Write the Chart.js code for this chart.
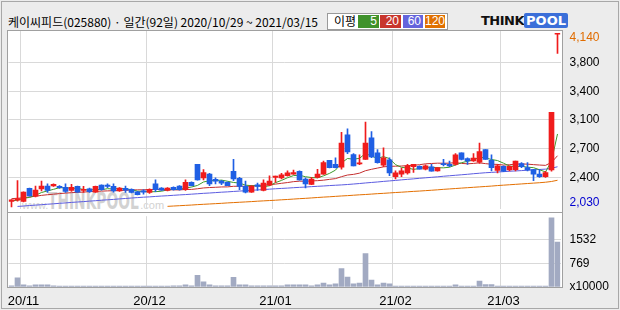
<!DOCTYPE html>
<html><head><meta charset="utf-8">
<script src="https://cdn.jsdelivr.net/npm/chart.js@4.4.1/dist/chart.umd.min.js"></script>
<style>
html,body{margin:0;padding:0;}
body{width:620px;height:310px;background:#ececec;position:relative;overflow:hidden;font-family:'Noto Sans CJK KR','Noto Sans',sans-serif;}
#outer{position:absolute;left:1px;top:1px;width:618px;height:308px;box-sizing:border-box;border:1px solid #a8a8a8;}
#plot{position:absolute;left:7px;top:30px;width:556px;height:258px;box-sizing:border-box;border:1px solid #a0a0a0;background:#fff;}
#sep{position:absolute;left:7px;top:212px;width:556px;height:1px;background:#a0a0a0;}
#title{position:absolute;left:8px;top:13px;font-size:12px;line-height:17px;color:#000;white-space:nowrap;}
#legend{position:absolute;left:327px;top:13px;width:121px;height:17px;box-sizing:border-box;border:1px solid #9a9a9a;background:#fff;}
#legend .t{position:absolute;left:6px;top:-1px;font-size:12px;line-height:16px;color:#000;}
#legend .b{position:absolute;top:1px;height:13px;font-family:'Liberation Sans',sans-serif;font-size:12px;line-height:13px;color:#fff;text-align:right;box-sizing:border-box;padding-right:2px;}
#logo{position:absolute;left:481px;top:13px;height:15px;white-space:nowrap;font-family:'DejaVu Sans',sans-serif;font-weight:bold;font-size:13px;line-height:15px;}
#logo .k{color:#111;letter-spacing:-0.5px;}
#logo .p{color:#fff;background:#3b6fd9;padding:0 2px;border-radius:2px;}
#wm{position:absolute;left:22px;top:188px;white-space:nowrap;color:#d2d2d2;}
#wm .s{font-family:'Liberation Sans',sans-serif;font-size:11px;}
#wm .big{display:inline-block;font-family:'DejaVu Sans',sans-serif;font-weight:bold;font-size:23px;transform:scaleX(0.6);transform-origin:left bottom;width:92px;overflow:visible;}
canvas{position:absolute;left:0;}
</style>
</head><body>
<div id="outer"></div>
<div id="plot"></div>
<div id="wm"><span class="s">www.</span><span class="big">THINKPOOL</span><span class="s">.com</span></div>
<div id="sep"></div>
<div id="title">케이씨피드(025880) · 일간(92일) 2020/10/29 ~ 2021/03/15</div>
<div id="legend"><span class="t">이평</span>
<span class="b" style="left:30px;width:21px;background:#40922c">5</span>
<span class="b" style="left:52px;width:21px;background:#c8352c">20</span>
<span class="b" style="left:75px;width:20px;background:#6464dc">60</span>
<span class="b" style="left:97px;width:20px;background:#e07000">120</span>
</div>
<div id="logo"><span class="k">THINK</span><span class="p">POOL</span></div>
<canvas id="cPrice" width="620" height="225" style="top:0;width:620px;height:225px"></canvas>
<canvas id="cVol" width="620" height="110" style="top:200px;width:620px;height:110px"></canvas>
<script>
const categories = [
'20/10/29','20/10/30',
'20/11/02','20/11/03','20/11/04','20/11/05','20/11/06','20/11/09','20/11/10','20/11/11','20/11/12','20/11/13',
'20/11/16','20/11/17','20/11/18','20/11/19','20/11/20','20/11/23','20/11/24','20/11/25','20/11/26','20/11/27','20/11/30',
'20/12/01','20/12/02','20/12/03','20/12/04','20/12/07','20/12/08','20/12/09','20/12/10','20/12/11',
'20/12/14','20/12/15','20/12/16','20/12/17','20/12/18','20/12/21','20/12/22','20/12/23','20/12/24','20/12/28','20/12/29','20/12/30',
'21/01/04','21/01/05','21/01/06','21/01/07','21/01/08','21/01/11','21/01/12','21/01/13','21/01/14','21/01/15',
'21/01/18','21/01/19','21/01/20','21/01/21','21/01/22','21/01/25','21/01/26','21/01/27','21/01/28','21/01/29',
'21/02/01','21/02/02','21/02/03','21/02/04','21/02/05','21/02/08','21/02/09','21/02/10',
'21/02/15','21/02/16','21/02/17','21/02/18','21/02/19','21/02/22','21/02/23','21/02/24','21/02/25','21/02/26',
'21/03/02','21/03/03','21/03/04','21/03/05','21/03/08','21/03/09','21/03/10','21/03/11','21/03/12','21/03/15'
];
const open  = [2095,2110,2095,2255,2160,2250,2285,2285,2280,2270, 2230,2280,2230,2250,2210,2295,2295,2280,2225,2255,
               2245,2215,2225,2205,2310,2260,2230,2270,2285,2240, 2330,2550,2385,2430,2365,2345,2330,2465,2380,2280,
               2210,2300,2230,2295,2390,2385,2410,2430,2465,2370, 2305,2390,2430,2600,2550,2515,2910,2670,2555,2610,
               2875,2690,2540,2605,2400,2430,2445,2520,2525,2490, 2520,2470,2560,2550,2550,2690,2620,2590,2575,2730,
               2600,2475,2525,2480,2485,2560,2510,2485,2430,2400, 2480,4140];
const high  = [2120,2350,2215,2260,2285,2345,2310,2310,2290,2310, 2305,2285,2280,2260,2285,2300,2310,2310,2265,2285,
               2250,2220,2240,2250,2360,2265,2265,2275,2290,2360, 2335,2550,2485,2440,2385,2355,2335,2610,2390,2345,
               2290,2320,2360,2410,2405,2440,2470,2480,2470,2385, 2390,2490,2590,2600,2630,2940,2985,2680,2665,3065,
               2950,2730,2750,2630,2470,2505,2550,2550,2530,2545, 2550,2510,2610,2590,2680,2690,2630,2680,2810,2730,
               2665,2550,2530,2530,2590,2570,2570,2490,2490,2465, 3185,4140];
const low   = [2030,2100,2090,2160,2150,2225,2205,2280,2255,2205, 2220,2205,2205,2205,2205,2235,2265,2210,2220,2205,
               2200,2175,2185,2195,2215,2230,2225,2235,2235,2230, 2285,2355,2360,2290,2310,2300,2290,2350,2240,2200,
               2205,2230,2225,2290,2330,2370,2405,2425,2355,2260, 2300,2385,2425,2505,2505,2490,2680,2530,2545,2610,
               2630,2565,2520,2410,2370,2400,2430,2450,2490,2480, 2465,2465,2530,2520,2540,2605,2550,2585,2560,2610,
               2470,2445,2460,2470,2470,2510,2470,2350,2390,2390, 2465,3905];
const close = [2115,2130,2210,2165,2235,2285,2230,2305,2265,2220, 2270,2210,2245,2215,2280,2240,2280,2225,2260,2235,
               2205,2180,2210,2245,2240,2235,2260,2240,2240,2330, 2290,2360,2450,2310,2345,2320,2290,2370,2280,2210,
               2285,2280,2320,2345,2405,2420,2445,2450,2360,2310, 2370,2430,2570,2510,2510,2810,2700,2530,2560,2810,
               2640,2570,2630,2445,2445,2470,2530,2550,2490,2530, 2465,2510,2545,2530,2665,2610,2590,2625,2705,2610,
               2510,2530,2465,2525,2590,2520,2480,2430,2400,2450, 3185,4140];
const volume = [40,295,70,40,70,70,70,35,30,30, 30,30,30,30,30,30,30,30,30,30,
                30,30,30,30,30,30,30,35,40,70, 40,375,170,70,35,35,35,315,70,70,
                35,35,35,35,35,40,70,70,70,70, 40,70,130,70,100,595,320,100,130,1080,
                225,70,130,100,30,30,30,30,30,30, 30,30,30,30,70,30,30,30,195,80,
                80,30,30,30,30,30,30,30,30,30, 2240,1455];
const ma5 = [2105,2110,2135,2145,2172,2205,2225,2244,2264,2262, 2259,2255,2243,2233,2245,2239,2252,2248,2257,2248,
             2241,2221,2218,2215,2215,2221,2237,2243,2243,2261, 2272,2292,2334,2349,2351,2357,2343,2328,2321,2295,
             2289,2286,2276,2288,2326,2353,2386,2412,2416,2398, 2388,2385,2409,2439,2479,2567,2621,2613,2623,2683,
             2649,2624,2644,2620,2546,2513,2505,2488,2498,2514, 2513,2508,2507,2514,2542,2570,2587,2603,2638,2628,
             2609,2596,2564,2528,2523,2525,2515,2509,2484,2456, 2589,2921];
const ma20 = [2130,2135,2140,2150,2160,2170,2178,2185,2192,2198, 2203,2207,2211,2215,2219,2222,2225,2227,2230,2232,
              2236,2238,2238,2242,2243,2240,2241,2238,2237,2242, 2243,2251,2261,2266,2269,2273,2274,2281,2282,2281,
              2285,2290,2295,2300,2308,2318,2327,2338,2344,2343, 2347,2350,2356,2366,2375,2399,2419,2427,2442,2472,
              2489,2504,2519,2525,2527,2529,2534,2538,2545,2556, 2560,2564,2563,2564,2571,2561,2556,2561,2568,2558,
              2551,2549,2541,2545,2552,2554,2552,2546,2541,2537, 2573,2655];
const ma60 = [null,2035,2040,2046,2051,2056,2062,2067,2073,2078, 2084,2089,2094,2100,2105,2111,2116,2121,2127,2132,
              2138,2143,2148,2152,2157,2162,2166,2171,2176,2180, 2185,2190,2195,2199,2204,2209,2213,2218,2223,2227,
              2232,2237,2241,2246,2251,2255,2259,2264,2268,2272, 2277,2281,2285,2290,2294,2298,2303,2309,2315,2322,
              2328,2334,2341,2347,2353,2360,2366,2372,2379,2385, 2391,2397,2404,2410,2416,2422,2428,2435,2441,2447,
              2451,2456,2460,2465,2469,2473,2478,2482,2487,2491, 2502,2520];
const ma120 = [null,null,null,null,null,null,null,null,null,null, null,null,null,null,null,null,null,null,null,null,
               null,null,null,null,null,null,2036,2040,2044,2048, 2052,2057,2061,2065,2069,2073,2078,2082,2086,2090,
               2094,2099,2103,2107,2111,2116,2120,2125,2130,2134, 2139,2144,2149,2153,2158,2163,2167,2172,2177,2181,
               2186,2191,2195,2200,2205,2209,2214,2219,2223,2228, 2233,2238,2244,2249,2254,2259,2264,2269,2274,2279,
               2284,2290,2295,2300,2305,2310,2315,2320,2325,2331, 2340,2355];
const priceTickValues = [2075,2391,2742,3093,3444,3795,4102];
const priceTickLabels = ['2,030','2,400','2,700','3,100','3,400','3,800','4,140'];
const volTickValues = [0,765,1530];
const volTickLabels = ['x10000','769','1532'];
const monthTickIndex = [2,23,44,64,82];
const monthTickLabels = ['20/11','20/12','21/01','21/02','21/03'];

const RED='#f01c1c', BLUE='#1f5fe4', GRID='#d9d9d9';
const candleColor = close.map((c,i)=> c>=open[i] ? RED : BLUE);
const TR='rgba(0,0,0,0)';
const xGrid = {offset:true, drawTicks:false, lineWidth:1,
  color: ctx => monthTickIndex.includes(ctx.index) ? GRID : TR};
const baseOpts = {animation:false, responsive:false, maintainAspectRatio:false, events:[],
  plugins:{legend:{display:false}, tooltip:{enabled:false}}};

new Chart(document.getElementById('cPrice'), {
  type:'bar',
  data:{labels:categories, datasets:[
    {type:'bar', data:low.map((l,i)=>[l,high[i]]), backgroundColor:candleColor, barThickness:1, grouped:false, order:1},
    {type:'bar', data:open.map((o,i)=>[Math.min(o,close[i]),Math.max(o,close[i])]), backgroundColor:candleColor, barThickness:5, grouped:false, minBarLength:1, order:0},
    {type:'line', data:ma5, borderColor:'#3d9a2b', borderWidth:1, pointRadius:0, order:2},
    {type:'line', data:ma20, borderColor:'#c42e2e', borderWidth:1, pointRadius:0, order:3},
    {type:'line', data:ma60, borderColor:'#5c5ce0', borderWidth:1, pointRadius:0, order:4},
    {type:'line', data:ma120, borderColor:'#e36f00', borderWidth:1, pointRadius:0, order:5}
  ]},
  options:Object.assign({}, baseOpts, {
    layout:{padding:{left:8.5, top:31, right:0, bottom:13}},
    scales:{
      x:{grid:xGrid, border:{display:false}, ticks:{display:false}, afterFit:s=>{s.height=0;}},
      y:{position:'right', min:2006, max:4180,
         afterBuildTicks:s=>{s.ticks=priceTickValues.map(v=>({value:v}));},
         ticks:{callback:(v,i)=>priceTickLabels[i], padding:9,
                color:ctx=> ctx.index===0 ? '#0000d0' : (ctx.index===priceTickValues.length-1 ? '#e06c00' : '#000'),
                font:{family:'Liberation Sans', size:12}},
         grid:{drawTicks:false, color:ctx=> (ctx.index>0 && ctx.index<priceTickValues.length-1) ? GRID : TR},
         border:{display:false}, afterFit:s=>{s.width=59.5;}}
    }
  })
});

new Chart(document.getElementById('cVol'), {
  type:'bar',
  data:{labels:categories, datasets:[{data:volume, backgroundColor:'#a2aac2', barThickness:5}]},
  options:Object.assign({}, baseOpts, {
    layout:{padding:{left:8.5, top:12, right:0, bottom:0}},
    scales:{
      x:{grid:xGrid, border:{display:false},
         ticks:{autoSkip:false, maxRotation:0, minRotation:0, padding:7, color:'#000',
                font:{family:'Liberation Sans', size:13},
                callback:(v,i)=>{const k=monthTickIndex.indexOf(i); return k>=0?monthTickLabels[k]:'';}},
         afterFit:s=>{s.height=23;}},
      y:{position:'right', min:0, max:2295,
         afterBuildTicks:s=>{s.ticks=volTickValues.map(v=>({value:v}));},
         ticks:{callback:(v,i)=>volTickLabels[i], padding:9, color:'#000', font:{family:'Liberation Sans', size:12}},
         grid:{drawTicks:false, color:ctx=> ctx.index>0 ? GRID : TR},
         border:{display:false}, afterFit:s=>{s.width=59.5;}}
    }
  })
});
</script>
</body></html>
